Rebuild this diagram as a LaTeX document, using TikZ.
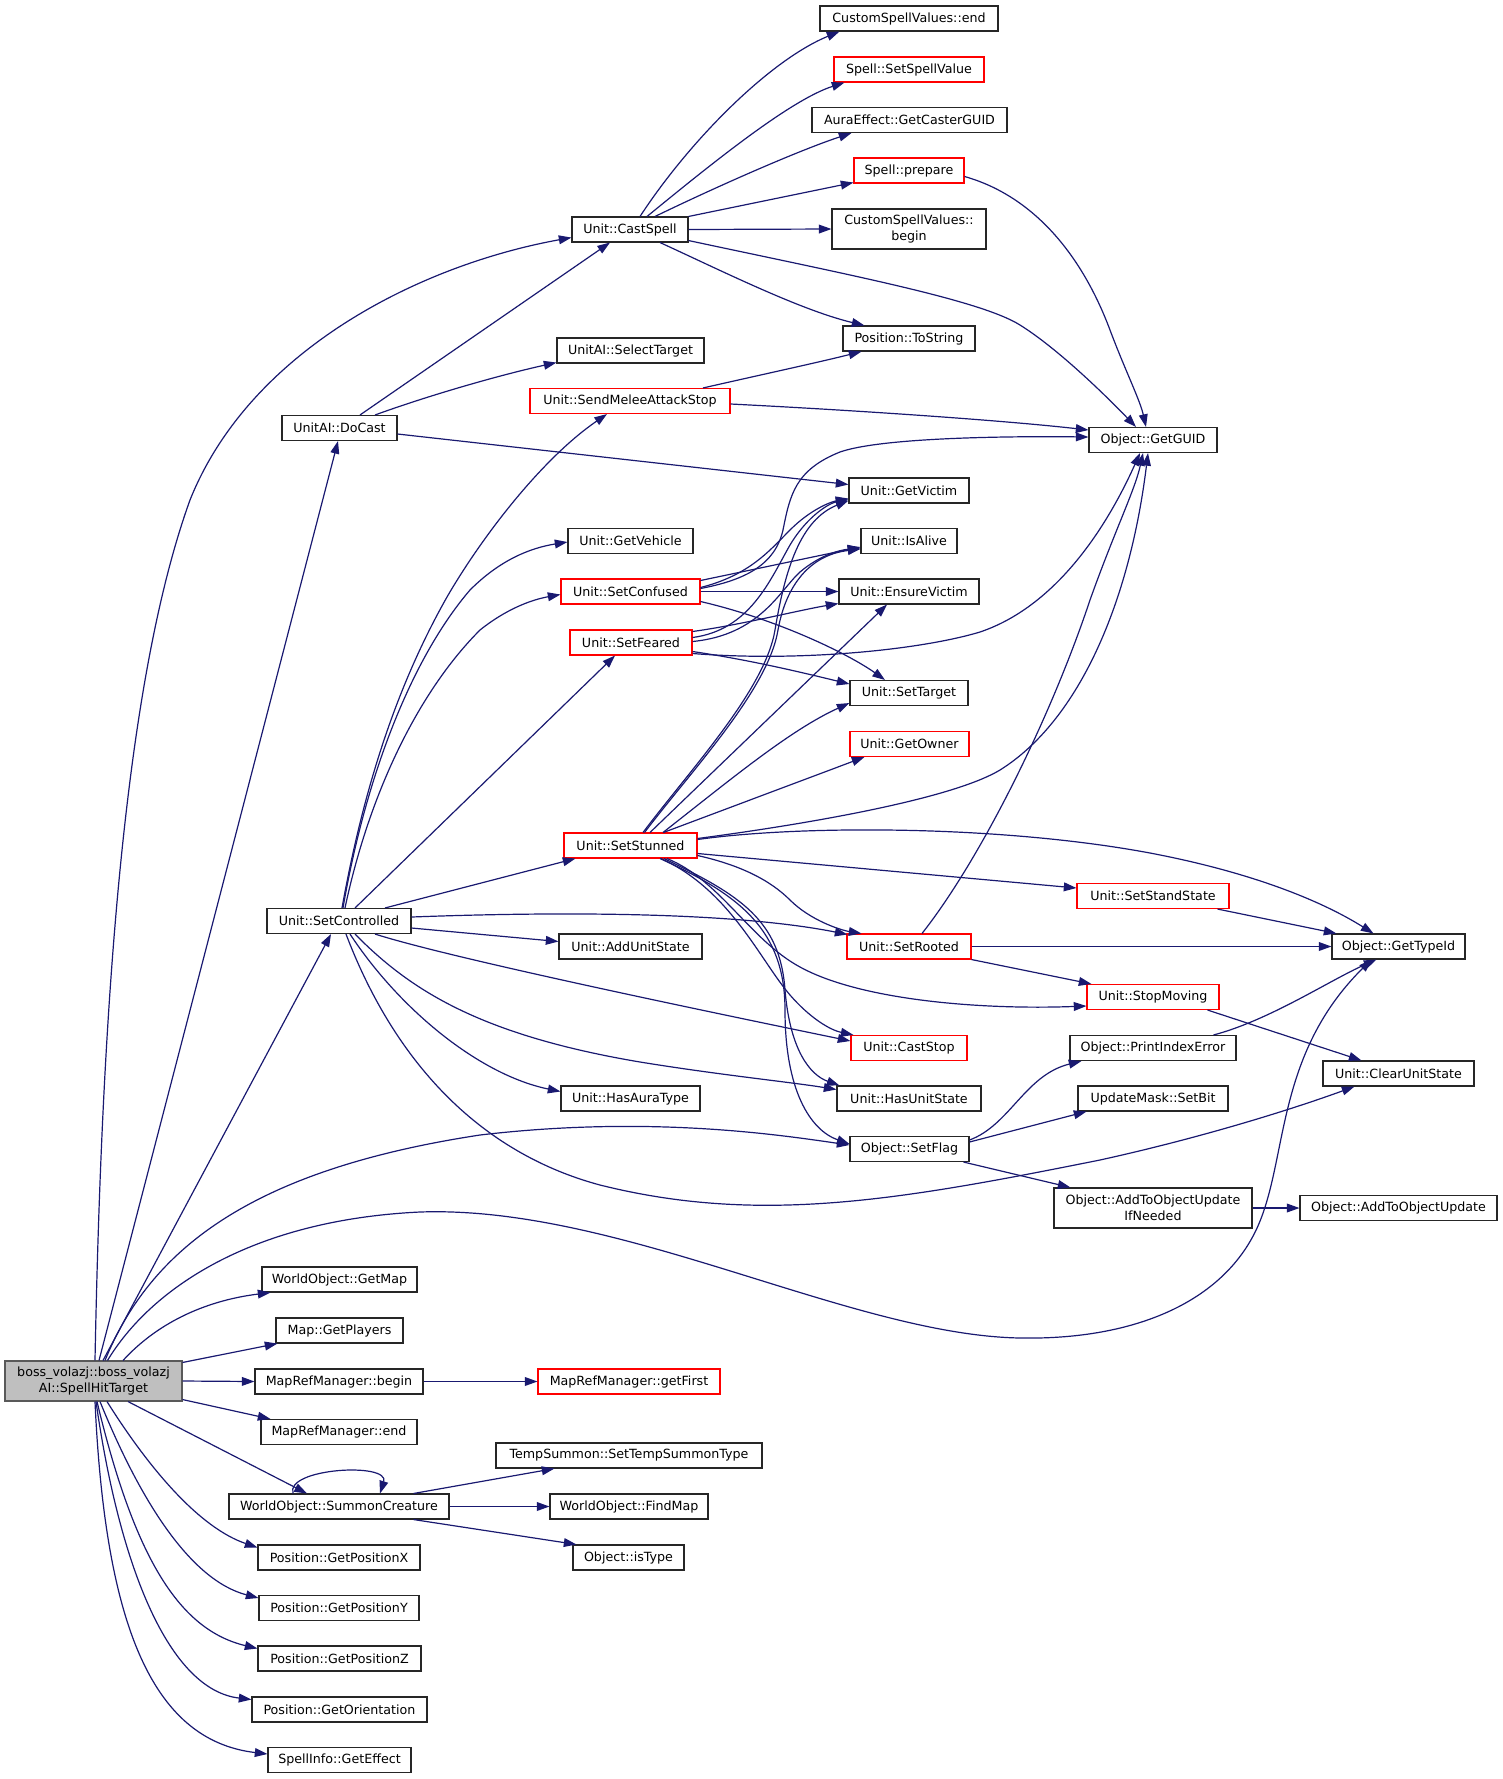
\documentclass[tikz,border=0pt]{standalone}
\usepackage{fontspec}
\setmainfont{DejaVu Sans}
\usetikzlibrary{arrows.meta,calc}
\definecolor{navyc}{RGB}{25,25,112}
\definecolor{mgray}{RGB}{191,191,191}
\begin{document}
\begin{tikzpicture}[x=0.75pt,y=-0.75pt,
  nd/.style={draw=black!85, line width=0.8pt, fill=white, inner sep=0pt, minimum height=18.75pt, font=\fontsize{9.5}{11.7}\selectfont, align=center},
  rd/.style={nd, draw=red},
  wd/.style={minimum width={#1*0.75pt}},
  edg/.style={draw=navyc, line width=0.9pt, -{Triangle[length=9.5pt,width=6.6pt]}}]
\useasboundingbox (0,0) rectangle (1503,1779);

% ---- nodes ----
\node[nd, fill=mgray, draw=black!65, wd=177, minimum height=30pt] (main) at (93.5,1381) {boss\_volazj::boss\_volazj\\AI::SpellHitTarget};

\node[nd, wd=115] (docast) at (339.5,428) {UnitAI::DoCast};
\node[nd, wd=144] (setcontrolled) at (339,921) {Unit::SetControlled};
\node[nd, wd=155] (getmap) at (339.5,1279.5) {WorldObject::GetMap};
\node[nd, wd=127] (getplayers) at (339.5,1330.5) {Map::GetPlayers};
\node[nd, wd=168] (mrmbegin) at (339,1381.5) {MapRefManager::begin};
\node[nd, wd=156] (mrmend) at (339,1432) {MapRefManager::end};
\node[nd, wd=220] (summon) at (339,1506.5) {WorldObject::SummonCreature};
\node[nd, wd=162] (posx) at (339,1557.5) {Position::GetPositionX};
\node[nd, wd=160] (posy) at (339,1608) {Position::GetPositionY};
\node[nd, wd=163] (posz) at (339.5,1658.5) {Position::GetPositionZ};
\node[nd, wd=175] (orient) at (339.5,1709.5) {Position::GetOrientation};
\node[nd, wd=143] (effect) at (339.5,1760) {SpellInfo::GetEffect};

\node[nd, wd=116] (castspell) at (630,229.5) {Unit::CastSpell};
\node[nd, wd=147] (selecttarget) at (630.5,350.5) {UnitAI::SelectTarget};
\node[rd, wd=200] (sendmelee) at (630,401) {Unit::SendMeleeAttackStop};
\node[nd, wd=125] (getvehicle) at (630.5,541) {Unit::GetVehicle};
\node[rd, wd=139] (setconfused) at (630.5,591.5) {Unit::SetConfused};
\node[rd, wd=122] (setfeared) at (631,642.5) {Unit::SetFeared};
\node[rd, wd=133] (setstunned) at (630.5,845.5) {Unit::SetStunned};
\node[nd, wd=143] (addunitstate) at (630.5,946.5) {Unit::AddUnitState};
\node[nd, wd=139] (hasauratype) at (630.5,1098.5) {Unit::HasAuraType};
\node[rd, wd=182] (getfirst) at (629,1381.5) {MapRefManager::getFirst};
\node[nd, wd=266] (tempsummon) at (629,1455.5) {TempSummon::SetTempSummonType};
\node[nd, wd=158] (findmap) at (629,1506.5) {WorldObject::FindMap};
\node[nd, wd=111] (istype) at (628.5,1557.5) {Object::isType};

\node[nd, wd=178] (csvend) at (909,18.5) {CustomSpellValues::end};
\node[rd, wd=150] (setspellvalue) at (909,69.5) {Spell::SetSpellValue};
\node[nd, wd=195] (aura) at (909.5,120) {AuraEffect::GetCasterGUID};
\node[rd, wd=110] (prepare) at (909,170.5) {Spell::prepare};
\node[nd, wd=154, minimum height=30pt] (csvbegin) at (909,229) {CustomSpellValues::\\begin};
\node[nd, wd=132] (tostring) at (909,338.5) {Position::ToString};
\node[nd, wd=120] (getvictim) at (909,490.5) {Unit::GetVictim};
\node[nd, wd=96] (isalive) at (909,541) {Unit::IsAlive};
\node[nd, wd=140] (ensurevictim) at (909,591.5) {Unit::EnsureVictim};
\node[nd, wd=118] (settarget) at (909,693) {Unit::SetTarget};
\node[rd, wd=119] (getowner) at (909.5,744) {Unit::GetOwner};
\node[rd, wd=124] (setrooted) at (909,946.5) {Unit::SetRooted};
\node[rd, wd=116] (caststop) at (909,1048) {Unit::CastStop};
\node[nd, wd=144] (hasunitstate) at (909,1098.5) {Unit::HasUnitState};
\node[nd, wd=119] (setflag) at (909.5,1149) {Object::SetFlag};

\node[nd, wd=128] (getguid) at (1153,440) {Object::GetGUID};
\node[rd, wd=152] (setstandstate) at (1153,896) {Unit::SetStandState};
\node[rd, wd=132] (stopmoving) at (1153,997) {Unit::StopMoving};
\node[nd, wd=166] (printindexerror) at (1153,1048) {Object::PrintIndexError};
\node[nd, wd=150] (setbit) at (1153,1098.5) {UpdateMask::SetBit};
\node[nd, wd=198, minimum height=30pt] (addifneeded) at (1153,1208) {Object::AddToObjectUpdate\\IfNeeded};

\node[nd, wd=133] (gettypeid) at (1398.5,946.5) {Object::GetTypeId};
\node[nd, wd=151] (clearunitstate) at (1398.5,1073.5) {Unit::ClearUnitState};
\node[nd, wd=197] (addtoobjectupdate) at (1398.5,1208) {Object::AddToObjectUpdate};

% ---- edges from main ----
\draw[edg] ($(main.north)+(1.5,0)$) .. controls (102,1000) and (125,680) .. (190,500) .. controls (250,350) and (420,265) .. ($(castspell.south west)+(0,-5)$);
\draw[edg] ($(main.north)+(5.5,0)$) -- ($(docast.south)+(-1.5,0)$);
\draw[edg] ($(main.north)+(9.5,0)$) -- ($(setcontrolled.south)+(-8,0)$);
\draw[edg] ($(main.north)+(11.5,0)$) .. controls (150,1250) and (250,1170) .. (480,1135) .. controls (650,1115) and (780,1135) .. ($(setflag.west)+(0,-4)$);
\draw[edg] ($(main.north)+(14,0)$) .. controls (150,1290) and (250,1220) .. (420,1212) .. controls (620,1205) and (850,1335) .. (1020,1338) .. controls (1130,1340) and (1215,1305) .. (1252,1238) .. controls (1290,1170) and (1270,1060) .. ($(gettypeid.south)+(-27,0)$);
\draw[edg] ($(main.north)+(29.5,0)$) .. controls (160,1320) and (210,1300) .. ($(getmap.south west)+(9,0)$);
\draw[edg] ($(main.north east)+(0,2)$) -- ($(getplayers.south west)+(2,0)$);
\draw[edg] (main.east) -- (mrmbegin.west);
\draw[edg] ($(main.south east)+(0,-2)$) -- ($(mrmend.north west)+(10,0)$);
\draw[edg] ($(main.south)+(34.5,0)$) -- ($(summon.north)+(-32,0)$);
\draw[edg] ($(main.south)+(13.5,0)$) .. controls (150,1470) and (200,1528) .. ($(posx.west)+(0,-10)$);
\draw[edg] ($(main.south)+(6.5,0)$) .. controls (140,1500) and (190,1580) .. ($(posy.west)+(0,-10)$);
\draw[edg] ($(main.south)+(3.5,0)$) .. controls (135,1560) and (180,1630) .. ($(posz.west)+(0,-10)$);
\draw[edg] ($(main.south)+(2.5,0)$) .. controls (120,1570) and (170,1690) .. ($(orient.west)+(0,-10)$);
\draw[edg] ($(main.south)+(1.5,0)$) .. controls (105,1620) and (150,1740) .. ($(effect.west)+(0,-6)$);

% ---- DoCast ----
\draw[edg] ($(docast.north)+(20.5,0)$) -- ($(castspell.south)+(-20,0)$);
\draw[edg] ($(docast.north)+(35.5,0)$) .. controls (430,395) and (500,375) .. ($(selecttarget.south west)+(0,-1)$);
\draw[edg] ($(docast.east)+(0,6)$) -- ($(getvictim.west)+(0,-6)$);

% ---- CastSpell ----
\draw[edg] ($(castspell.north)+(10,0)$) .. controls (690,140) and (770,60) .. ($(csvend.south west)+(20,0)$);
\draw[edg] ($(castspell.north)+(17,0)$) .. controls (710,165) and (790,100) .. ($(setspellvalue.south west)+(11,0)$);
\draw[edg] ($(castspell.north)+(25,0)$) .. controls (720,185) and (800,150) .. ($(aura.south west)+(40,0)$);
\draw[edg] (castspell.north east) -- ($(prepare.south west)+(0,-1)$);
\draw[edg] (castspell.east) -- (csvbegin.west);
\draw[edg] ($(castspell.south)+(30,0)$) .. controls (720,270) and (800,310) .. ($(tostring.north west)+(22,0)$);
\draw[edg] ($(castspell.south east)+(0,-2)$) .. controls (850,275) and (980,300) .. (1020,325) .. controls (1060,350) and (1110,400) .. ($(getguid.north)+(-17,0)$);
\draw[edg] ($(prepare.east)+(0,6)$) .. controls (1030,195) and (1080,250) .. (1110,330) .. controls (1125,370) and (1140,400) .. ($(getguid.north)+(-7,0)$);

% ---- SendMeleeAttackStop ----
\draw[edg] ($(sendmelee.north)+(73,0)$) .. controls (760,375) and (820,362) .. ($(tostring.south west)+(19,0)$);
\draw[edg] ($(sendmelee.east)+(0,3)$) .. controls (850,410) and (1000,420) .. ($(getguid.west)+(0,-10)$);

% ---- SetControlled ----
\draw[edg] ($(setcontrolled.north)+(3,0)$) .. controls (365,780) and (400,680) .. (447,597) .. controls (480,540) and (540,460) .. ($(sendmelee.south)+(-23,0)$);
\draw[edg] ($(setcontrolled.north)+(4,0)$) .. controls (365,780) and (410,660) .. (470,590) .. controls (500,560) and (530,548) .. ($(getvehicle.west)+(0,1)$);
\draw[edg] ($(setcontrolled.north)+(6,0)$) .. controls (370,790) and (420,690) .. (480,630) .. controls (505,610) and (530,600) .. ($(setconfused.west)+(0,3)$);
\draw[edg] ($(setcontrolled.north)+(16,0)$) -- ($(setfeared.south)+(-16,0)$);
\draw[edg] ($(setcontrolled.north)+(46,0)$) -- ($(setstunned.south west)+(12,0)$);
\draw[edg] ($(setcontrolled.east)+(0,-4)$) .. controls (600,910) and (750,915) .. ($(setrooted.north west)+(1,1)$);
\draw[edg] ($(setcontrolled.east)+(0,7)$) -- ($(addunitstate.west)+(0,-5)$);
\draw[edg] ($(setcontrolled.south)+(36,0)$) .. controls (450,958) and (700,1010) .. ($(caststop.west)+(0,-7)$);
\draw[edg] ($(setcontrolled.south)+(16,0)$) .. controls (410,990) and (480,1035) .. (640,1062) .. controls (720,1075) and (790,1082) .. ($(hasunitstate.west)+(0,-9)$);
\draw[edg] ($(setcontrolled.south)+(11,0)$) .. controls (400,1010) and (480,1075) .. ($(hasauratype.west)+(0,-7)$);
\draw[edg] ($(setcontrolled.south)+(7,0)$) .. controls (390,1050) and (470,1150) .. (600,1185) .. controls (760,1225) and (900,1200) .. (1100,1160) .. controls (1200,1138) and (1290,1110) .. ($(clearunitstate.south)+(-44,0)$);

% ---- SetConfused ----
\draw[edg] ($(setconfused.east)+(0,-11)$) -- ($(isalive.west)+(0,6)$);
\draw[edg] ($(setconfused.east)+(0,-4)$) .. controls (750,575) and (770,550) .. (790,530) .. controls (810,510) and (830,502) .. ($(getvictim.south west)+(0,-5)$);
\draw[edg] ($(setconfused.east)+(0,-3)$) .. controls (745,580) and (775,565) .. (783,530) .. controls (790,495) and (795,470) .. (840,452) .. controls (880,438) and (1000,436) .. ($(getguid.west)+(0,-3)$);
\draw[edg] (setconfused.east) -- (ensurevictim.west);
\draw[edg] ($(setconfused.east)+(0,10)$) .. controls (780,620) and (850,655) .. ($(settarget.north)+(-24,0)$);

% ---- SetFeared ----
\draw[edg] ($(setfeared.east)+(0,-11)$) .. controls (740,625) and (800,610) .. ($(ensurevictim.south west)+(0,-1)$);
\draw[edg] ($(setfeared.east)+(0,-5)$) .. controls (750,630) and (770,580) .. (790,545) .. controls (808,515) and (830,503) .. ($(getvictim.south west)+(0,-4)$);
\draw[edg] ($(setfeared.east)+(0,-1)$) .. controls (760,635) and (780,590) .. (800,572) .. controls (820,555) and (840,550) .. ($(isalive.west)+(0,7)$);
\draw[edg] ($(setfeared.east)+(0,9)$) .. controls (750,660) and (800,672) .. ($(settarget.west)+(0,-9)$);
\draw[edg] ($(setfeared.east)+(0,11)$) .. controls (800,662) and (920,650) .. (980,632) .. controls (1060,605) and (1110,520) .. ($(getguid.south)+(-13,0)$);

% ---- SetStunned ----
\draw[edg] ($(setstunned.north)+(12.5,0)$) .. controls (690,770) and (765,690) .. (775,630) .. controls (785,570) and (800,520) .. ($(getvictim.south west)+(0,-3)$);
\draw[edg] ($(setstunned.north)+(14,0)$) .. controls (692,770) and (768,690) .. (778,630) .. controls (786,585) and (810,555) .. ($(isalive.west)+(0,8)$);
\draw[edg] ($(setstunned.north)+(19.5,0)$) -- ($(ensurevictim.south)+(-22,0)$);
\draw[edg] ($(setstunned.north)+(32.5,0)$) .. controls (730,780) and (790,730) .. ($(settarget.south west)+(0,-3)$);
\draw[edg] ($(setstunned.north)+(33,0)$) -- ($(getowner.south west)+(15,0)$);
\draw[edg] ($(setstunned.east)+(0,-7)$) .. controls (800,825) and (950,800) .. (1000,770) .. controls (1080,720) and (1130,600) .. ($(getguid.south)+(-5,0)$);
\draw[edg] ($(setstunned.east)+(0,-6)$) .. controls (800,825) and (1000,825) .. (1150,853) .. controls (1250,872) and (1320,900) .. ($(gettypeid.north)+(-25,0)$);
\draw[edg] ($(setstunned.east)+(0,8)$) -- ($(setstandstate.west)+(0,-8)$);
\draw[edg] ($(setstunned.east)+(0,10)$) .. controls (740,865) and (770,880) .. (790,900) .. controls (810,920) and (840,930) .. ($(setrooted.north west)+(15,0)$);
\draw[edg] ($(setstunned.south)+(36.5,0)$) .. controls (720,880) and (750,940) .. (800,967) .. controls (860,1000) and (980,1010) .. ($(stopmoving.west)+(0,9)$);
\draw[edg] ($(setstunned.south)+(30.5,0)$) .. controls (730,890) and (760,960) .. (790,995) .. controls (810,1018) and (830,1030) .. ($(caststop.north west)+(3,0)$);
\draw[edg] ($(setstunned.south)+(33.5,0)$) .. controls (740,895) and (780,920) .. (785,990) .. controls (790,1050) and (810,1075) .. ($(hasunitstate.north west)+(3,0)$);
\draw[edg] ($(setstunned.south)+(29.5,0)$) .. controls (740,895) and (785,930) .. (785,1010) .. controls (785,1090) and (810,1130) .. ($(setflag.west)+(0,-5)$);

% ---- SetRooted ----
\draw[edg] ($(setrooted.north)+(13,0)$) .. controls (980,860) and (1050,720) .. (1090,600) .. controls (1115,530) and (1135,490) .. ($(getguid.south)+(-10,0)$);
\draw[edg] (setrooted.east) -- (gettypeid.west);
\draw[edg] (setrooted.south east) -- ($(stopmoving.north west)+(5,0)$);

% ---- right part ----
\draw[edg] ($(setstandstate.south east)+(-12,0)$) -- ($(gettypeid.north west)+(5,0)$);
\draw[edg] ($(stopmoving.south east)+(-12,0)$) -- ($(clearunitstate.north)+(-37,0)$);
\draw[edg] ($(printindexerror.north east)+(-23,0)$) .. controls (1270,1020) and (1330,980) .. ($(gettypeid.south)+(-22,0)$);
\draw[edg] ($(setflag.east)+(0,-9)$) .. controls (1010,1125) and (1025,1075) .. ($(printindexerror.south west)+(12,0)$);
\draw[edg] ($(setflag.east)+(0,-7)$) -- ($(setbit.south west)+(9,0)$);
\draw[edg] ($(setflag.south east)+(-6,0)$) -- ($(addifneeded.north west)+(17,0)$);
\draw[edg] (addifneeded.east) -- (addtoobjectupdate.west);

% ---- lower part ----
\draw[edg] (mrmbegin.east) -- (getfirst.west);
\draw[edg] ($(summon.north)+(-46,0)$) .. controls (285,1468) and (390,1462) .. ($(summon.north)+(41,0)$);
\draw[edg] ($(summon.north east)+(-36,0)$) -- ($(tempsummon.south west)+(59,0)$);
\draw[edg] (summon.east) -- (findmap.west);
\draw[edg] ($(summon.south east)+(-36,0)$) -- ($(istype.north west)+(4,0)$);
\end{tikzpicture}
\end{document}
